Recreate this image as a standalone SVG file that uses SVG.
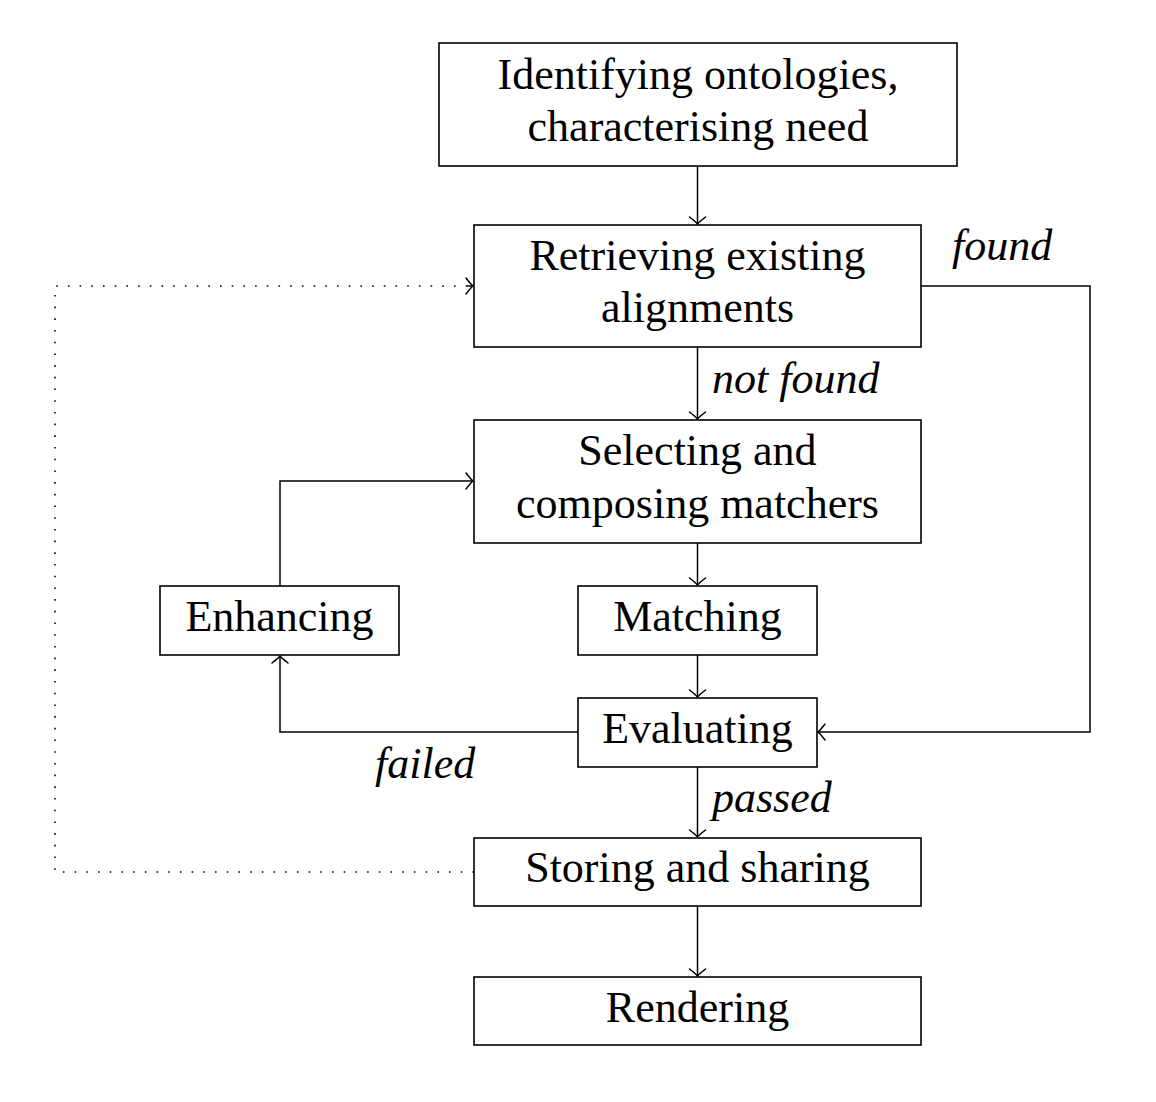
<svg xmlns="http://www.w3.org/2000/svg" width="1156" height="1102" viewBox="0 0 1156 1102">
<defs>
<marker id="arr" viewBox="-10 -10 20 20" markerWidth="20" markerHeight="20" refX="0" refY="0" orient="auto" markerUnits="userSpaceOnUse">
<path d="M-7,-8 Q-2,-1.5 0,0 Q-2,1.5 -7,8" fill="none" stroke="#000" stroke-width="1.5" stroke-linecap="round"/>
</marker>
<style>
.box{fill:#fff;stroke:#000;stroke-width:1.6}
.t{font-family:"Liberation Serif","Times New Roman",serif;font-size:44px;fill:#000;text-anchor:middle}
.l{font-family:"Liberation Serif","Times New Roman",serif;font-size:44px;font-style:italic;fill:#000}
.c{fill:none;stroke:#000;stroke-width:1.5}
.d{fill:none;stroke:#000;stroke-width:1.6;stroke-dasharray:1.6 10.1}
</style>
</defs>
<rect width="1156" height="1102" fill="#fff"/>
<g id="connectors">
<path class="c" d="M697.5,166 V224" marker-end="url(#arr)"/>
<path class="c" d="M697.5,347 V419" marker-end="url(#arr)"/>
<path class="c" d="M921,286 H1090 V732 H818" marker-end="url(#arr)"/>
<path class="c" d="M697.5,543 V585" marker-end="url(#arr)"/>
<path class="c" d="M697.5,655 V697" marker-end="url(#arr)"/>
<path class="c" d="M578,732 H280 V656" marker-end="url(#arr)"/>
<path class="c" d="M280,586 V481 H473" marker-end="url(#arr)"/>
<path class="c" d="M697.5,767 V837" marker-end="url(#arr)"/>
<path class="c" d="M697.5,906 V976" marker-end="url(#arr)"/>
<path class="d" d="M474,872 H55 V286 H466"/>
<path class="c" d="M466,286 H473" marker-end="url(#arr)" stroke="none"/>
<text class="l" x="952" y="260">found</text>
<text class="l" x="712" y="393">not found</text>
<text class="l" x="375" y="778">failed</text>
<text class="l" x="712" y="812">passed</text>
</g>
<g id="n1"><rect class="box" x="439" y="43" width="518" height="123"/>
<text class="t"><tspan x="698" y="89">Identifying ontologies,</tspan><tspan x="698" y="141">characterising need</tspan></text></g>
<g id="n2"><rect class="box" x="474" y="225" width="447" height="122"/>
<text class="t"><tspan x="697.5" y="270">Retrieving existing</tspan><tspan x="697.5" y="322">alignments</tspan></text></g>
<g id="n3"><rect class="box" x="474" y="420" width="447" height="123"/>
<text class="t"><tspan x="697.5" y="465">Selecting and</tspan><tspan x="697.5" y="518">composing matchers</tspan></text></g>
<g id="n4"><rect class="box" x="160" y="586" width="239" height="69"/>
<text class="t" x="279.5" y="631">Enhancing</text></g>
<g id="n5"><rect class="box" x="578" y="586" width="239" height="69"/>
<text class="t" x="697.5" y="631">Matching</text></g>
<g id="n6"><rect class="box" x="578" y="698" width="239" height="69"/>
<text class="t" x="697.5" y="743">Evaluating</text></g>
<g id="n7"><rect class="box" x="474" y="838" width="447" height="68"/>
<text class="t" x="697.5" y="882">Storing and sharing</text></g>
<g id="n8"><rect class="box" x="474" y="977" width="447" height="68"/>
<text class="t" x="697.5" y="1022">Rendering</text></g>
</svg>
